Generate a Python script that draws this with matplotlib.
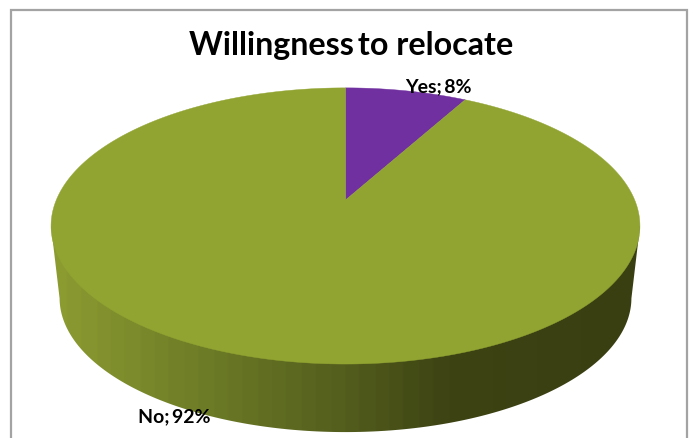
import matplotlib
matplotlib.use("Agg")
import matplotlib.pyplot as plt
import numpy as np
from matplotlib.colors import LinearSegmentedColormap
from matplotlib.patches import Polygon

title = "Willingness\u2009to relocate"
labels = ["Yes", "No"]
shares = [8, 92]
slice_colors = ["#7030a0", "#91a431"]

# wall shading, left to right
wall_stops = [0.0, 0.25, 0.5, 0.68, 1.0]
wall_colors = ["#8c9b30", "#6d7c27", "#535d1d", "#3d4313", "#3a3f12"]

plt.rcParams['font.family'] = ['Lato', 'DejaVu Sans']

fig = plt.figure(figsize=(6.94, 4.38), dpi=100)
ax = fig.add_axes([0, 0, 1, 1])


# 3D tilted circle, in pixels: theta runs clockwise from the back of the pie
def rim(theta, cx=345.5, cy=200.0, scale=1.0):
    k = 0.188
    x = np.sin(theta)
    y = -np.cos(theta)
    d = 1 - k * y
    return cx + scale * 289.2 * x / d, cy + scale * 133.2 * y / d


# side wall: gradient clipped to the front half of the lower rim
lx, ly = rim(np.linspace(0, 2 * np.pi, 721), cy=272.8, scale=0.971)
lower = np.column_stack([lx, ly])[ly > 298]
lower = lower[np.argsort(lower[:, 0])]
wall = Polygon(np.vstack([[[51, 226]], lower, [[640, 226]]]), closed=True, fc="none", ec="none")
ax.add_patch(wall)
cmap = LinearSegmentedColormap.from_list("wall", list(zip(wall_stops, wall_colors)), N=40)
img = ax.imshow(np.linspace(0, 1, 256).reshape(1, -1), cmap=cmap, aspect="auto",
                extent=[51, 640, 438, 220], zorder=1)
img.set_clip_path(wall)

# top face
start = 0.0
for share, color in zip(shares, slice_colors):
    end = start + share / sum(shares) * 2 * np.pi
    t = np.linspace(start, end, 400)
    x, y = rim(t)
    pts = np.column_stack([np.r_[345.5, x], np.r_[200.0, y]])
    ax.add_patch(Polygon(pts, closed=True, fc=color, ec=color, lw=0.3, zorder=2))
    start = end

# chart frame, open at the bottom
ax.plot([11.5, 11.5, 687.5, 687.5], [438, 9.5, 9.5, 438], color="#a3a3a3", lw=1.6, zorder=3,
        solid_joinstyle="miter")

ax.text(351, 45, title, ha="center", va="center", fontsize=23.2, fontweight="bold", color="black", zorder=4)
ax.text(438, 87, f"{labels[0]};\u2009{shares[0]}%", ha="center", va="center", fontsize=14, fontweight="bold",
        color="black", zorder=4)
ax.text(174, 417, f"{labels[1]};\u2009{shares[1]}%", ha="center", va="center", fontsize=14, fontweight="bold",
        color="black", zorder=4)

ax.set_xlim(0, 694)
ax.set_ylim(438, 0)
ax.axis("off")

fig.savefig("out.png", dpi=100)
